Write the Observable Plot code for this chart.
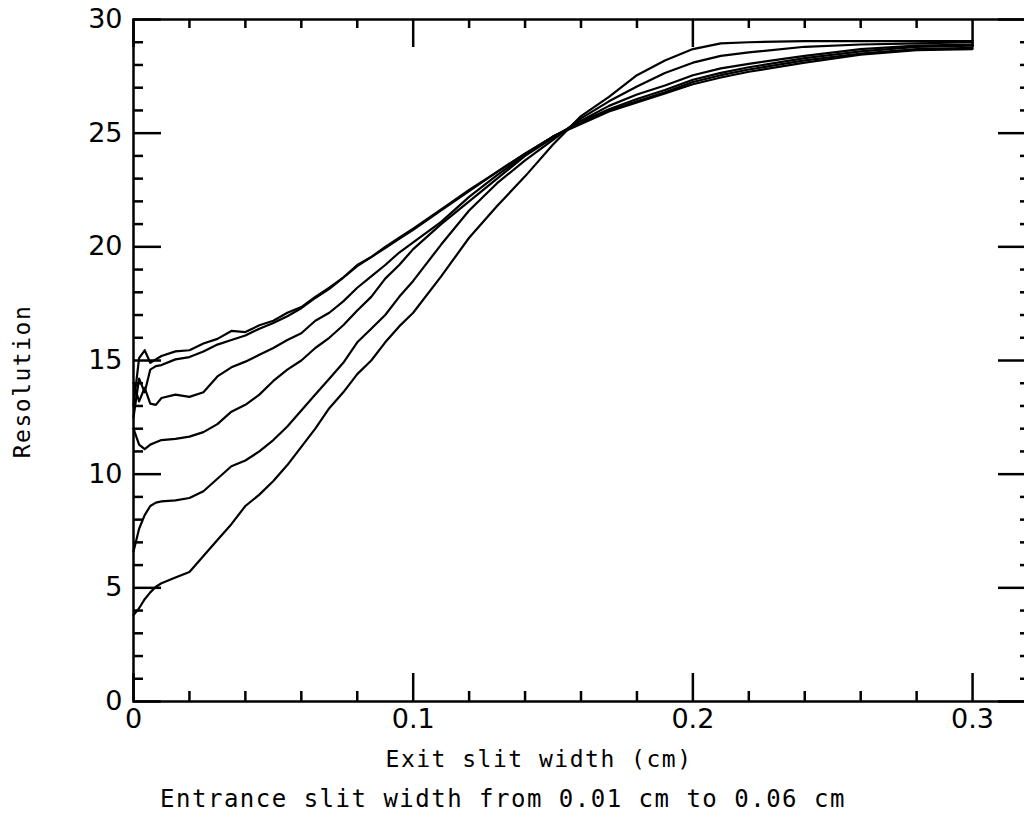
<!DOCTYPE html>
<html>
<head>
<meta charset="utf-8">
<script src="https://cdn.jsdelivr.net/npm/d3@7"></script>
<script src="https://cdn.jsdelivr.net/npm/@observablehq/plot@0.6"></script>
<style>
html, body { margin: 0; padding: 0; background: #fff; overflow: hidden; }
</style>
</head>
<body>
<div id="chart"></div>
<script>
// Exit slit width (cm) sample positions
const xs = [0, 0.002, 0.004, 0.006, 0.008, 0.01, 0.015, 0.02, 0.025, 0.03, 0.035, 0.04, 0.045, 0.05, 0.055, 0.06, 0.065, 0.07, 0.075, 0.08, 0.085, 0.09, 0.095, 0.1, 0.11, 0.12, 0.13, 0.14, 0.15, 0.16, 0.17, 0.18, 0.19, 0.2, 0.21, 0.22, 0.24, 0.26, 0.28, 0.3];

// Entrance slit widths (cm)
const entranceWidths = [0.01, 0.02, 0.03, 0.04, 0.05, 0.06];

// Resolution for each entrance slit width
const res001 = [13.0, 15.1, 15.45, 14.9, 15.05, 15.2, 15.4, 15.45, 15.75, 15.95, 16.3, 16.25, 16.55, 16.75, 17.1, 17.35, 17.8, 18.2, 18.65, 19.2, 19.55, 20.0, 20.4, 20.8, 21.65, 22.5, 23.3, 24.1, 24.85, 25.4, 25.95, 26.35, 26.75, 27.15, 27.45, 27.7, 28.1, 28.45, 28.65, 28.7];
const res002 = [12.5, 14.2, 13.6, 14.6, 14.75, 14.8, 15.05, 15.15, 15.4, 15.7, 15.9, 16.1, 16.4, 16.65, 16.95, 17.3, 17.75, 18.15, 18.65, 19.15, 19.55, 19.95, 20.35, 20.75, 21.6, 22.45, 23.3, 24.1, 24.85, 25.45, 26.0, 26.4, 26.8, 27.25, 27.55, 27.8, 28.2, 28.5, 28.7, 28.75];
const res003 = [14.0, 13.2, 13.8, 13.1, 13.05, 13.35, 13.5, 13.4, 13.6, 14.3, 14.7, 14.95, 15.25, 15.55, 15.9, 16.2, 16.75, 17.1, 17.6, 18.2, 18.7, 19.2, 19.75, 20.2, 21.1, 22.2, 23.15, 24.05, 24.85, 25.5, 26.05, 26.5, 26.9, 27.35, 27.65, 27.9, 28.3, 28.6, 28.8, 28.85];
const res004 = [12.0, 11.3, 11.1, 11.3, 11.4, 11.5, 11.55, 11.65, 11.85, 12.2, 12.75, 13.05, 13.5, 14.1, 14.6, 15.0, 15.55, 16.0, 16.55, 17.2, 17.8, 18.6, 19.2, 19.9, 21.0, 22.0, 23.0, 24.0, 24.8, 25.55, 26.2, 26.7, 27.1, 27.55, 27.85, 28.05, 28.4, 28.7, 28.85, 28.9];
const res005 = [6.6, 7.6, 8.2, 8.6, 8.75, 8.8, 8.85, 8.95, 9.25, 9.8, 10.35, 10.6, 11.0, 11.5, 12.1, 12.8, 13.5, 14.2, 14.9, 15.8, 16.4, 17.0, 17.8, 18.5, 20.1, 21.6, 22.8, 23.8, 24.7, 25.65, 26.4, 27.05, 27.65, 28.1, 28.4, 28.55, 28.8, 28.9, 28.95, 29.0];
const res006 = [3.8, 4.1, 4.5, 4.8, 5.05, 5.2, 5.45, 5.7, 6.4, 7.1, 7.8, 8.6, 9.1, 9.7, 10.4, 11.2, 12.0, 12.9, 13.6, 14.4, 15.0, 15.8, 16.5, 17.1, 18.7, 20.4, 21.8, 23.1, 24.5, 25.75, 26.6, 27.55, 28.2, 28.7, 28.95, 29.0, 29.05, 29.05, 29.05, 29.05];

// Axis ticks
const xMajor = [0, 0.1, 0.2, 0.3];
const xMinor = [0.02, 0.04, 0.06, 0.08, 0.12, 0.14, 0.16, 0.18, 0.22, 0.24, 0.26, 0.28];
const yMajor = [0, 5, 10, 15, 20, 25, 30];
const yMinor = [1, 2, 3, 4, 6, 7, 8, 9, 11, 12, 13, 14, 16, 17, 18, 19, 21, 22, 23, 24, 26, 27, 28, 29];

// Texts
const xLabel = "Exit slit width (cm)";
const yLabel = "Resolution";
const caption = "Entrance slit width from 0.01 cm to 0.06 cm";

const series = [res001, res002, res003, res004, res005, res006];
const rows = [];
series.forEach((ys, i) => ys.forEach((y, j) => rows.push({x: xs[j], y, entrance: entranceWidths[i]})));

const W = 1024, H = 817;
const mL = 133, mR = -4, mT = 19, mB = 116;
const fw = W - mL - mR;
const fh = H - mT - mB;
const ink = "#000";
const mono = "DejaVu Sans Mono, monospace";

const chart = Plot.plot({
  width: W,
  height: H,
  marginLeft: mL,
  marginRight: mR,
  marginTop: mT,
  marginBottom: mB,
  x: {domain: [0, 0.32]},
  y: {domain: [0, 30]},
  style: {background: "#fff", fontFamily: "DejaVu Sans, sans-serif", overflow: "hidden", color: ink},
  marks: [
    Plot.line(rows, {x: "x", y: "y", z: "entrance", stroke: ink, strokeWidth: 2.2, curve: "linear"}),
    Plot.frame({stroke: ink, strokeWidth: 2.5}),
    // left ticks (inward)
    Plot.tickY(yMajor, {y: d => d, insetRight: fw - 28, stroke: ink, strokeWidth: 2.5}),
    Plot.tickY(yMinor, {y: d => d, insetRight: fw - 10, stroke: ink, strokeWidth: 2.5}),
    // right ticks (inward)
    Plot.tickY(yMajor, {y: d => d, insetLeft: fw - 30, stroke: ink, strokeWidth: 2.5}),
    Plot.tickY(yMinor, {y: d => d, insetLeft: fw - 8, stroke: ink, strokeWidth: 2.5}),
    // bottom ticks (inward)
    Plot.tickX(xMajor, {x: d => d, insetTop: fh - 28, stroke: ink, strokeWidth: 2.5}),
    Plot.tickX(xMinor, {x: d => d, insetTop: fh - 10, stroke: ink, strokeWidth: 2.5}),
    // top ticks (inward)
    Plot.tickX(xMajor, {x: d => d, insetBottom: fh - 28, stroke: ink, strokeWidth: 2.5}),
    Plot.tickX(xMinor, {x: d => d, insetBottom: fh - 9, stroke: ink, strokeWidth: 2.5}),
    Plot.axisX({ticks: xMajor, tickSize: 0, tickPadding: 7, fontSize: 27, label: null,
      tickFormat: d => d === 0 ? "0" : d.toFixed(1)}),
    Plot.axisY({ticks: yMajor, tickSize: 0, tickPadding: 11, fontSize: 27, label: null,
      tickFormat: d => String(d)}),
    Plot.text([xLabel], {text: d => d, frameAnchor: "bottom", textAnchor: "middle", dx: -42, dy: 65, fontSize: 23, fontFamily: mono, fill: ink}),
    Plot.text([caption], {text: d => d, frameAnchor: "bottom", textAnchor: "middle", dx: -78, dy: 105, fontSize: 24, fontFamily: mono, fill: ink}),
    Plot.text([yLabel], {text: d => d, frameAnchor: "left", textAnchor: "middle", lineAnchor: "middle", dx: -111, dy: 21, rotate: -90, fontSize: 23, fontFamily: mono, fill: ink})
  ]
});

d3.select(chart).selectAll('g[aria-label="text"] text').style("letter-spacing", "1.5px");
document.getElementById("chart").appendChild(chart);
</script>
</body>
</html>
